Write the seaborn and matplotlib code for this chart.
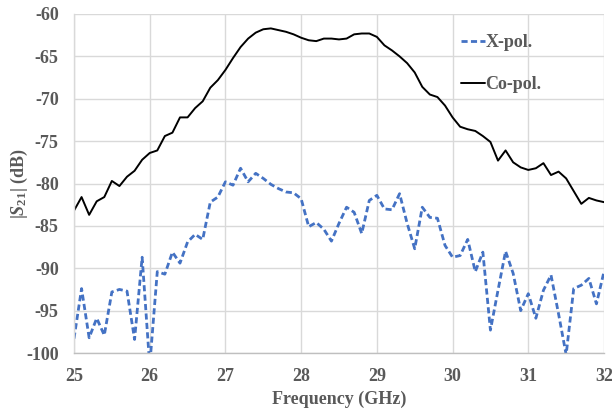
import numpy as np
import pandas as pd
import matplotlib
matplotlib.use("Agg")
import matplotlib.pyplot as plt
import seaborn as sns

# Frequency sweep 25-32 GHz in 0.1 GHz steps
freq = np.round(np.arange(25.0, 32.0001, 0.1), 1)

co_pol = [
    -83.2, -81.6, -83.7, -82.1, -81.6, -79.7, -80.3, -79.2, -78.5, -77.2,
    -76.4, -76.1, -74.4, -74.0, -72.2, -72.2, -71.1, -70.3, -68.7, -67.8,
    -66.6, -65.2, -63.9, -62.9, -62.2, -61.8, -61.7, -61.9, -62.1, -62.4,
    -62.8, -63.1, -63.2, -62.9, -62.9, -63.0, -62.9, -62.4, -62.3, -62.3,
    -62.7, -63.7, -64.3, -65.0, -65.8, -66.9, -68.6, -69.5, -69.8, -70.8,
    -72.2, -73.3, -73.6, -73.8, -74.4, -75.1, -77.3, -76.1, -77.5, -78.1,
    -78.4, -78.2, -77.6, -79.0, -78.6, -79.4, -80.9, -82.4, -81.7, -82.0,
    -82.2,
]

x_pol = [
    -98.3, -92.4, -98.2, -95.9, -97.9, -92.8, -92.5, -92.7, -98.4, -88.7,
    -101.5, -90.4, -90.7, -88.1, -89.4, -86.9, -86.0, -86.6, -82.2, -81.6,
    -79.8, -80.2, -78.2, -79.8, -78.8, -79.4, -80.1, -80.6, -81.0, -81.1,
    -81.8, -85.1, -84.6, -85.4, -86.8, -84.7, -82.8, -83.4, -85.9, -82.0,
    -81.4, -83.0, -83.1, -81.2, -84.7, -87.7, -82.8, -84.0, -84.1, -87.3,
    -88.7, -88.5, -86.6, -90.4, -88.1, -97.3, -92.6, -88.0, -90.6, -95.0,
    -93.0, -95.9, -92.6, -90.8, -95.4, -100.2, -92.4, -92.0, -91.2, -94.2,
    -90.4,
]

x_ticks = [25, 26, 27, 28, 29, 30, 31, 32]
y_ticks = [-100, -95, -90, -85, -80, -75, -70, -65, -60]

df = pd.DataFrame({"freq": freq, "X-pol.": x_pol, "Co-pol.": co_pol})

sns.set_theme(style="whitegrid")
plt.rcParams["font.family"] = ["Liberation Serif", "DejaVu Serif"]
plt.rcParams["mathtext.fontset"] = "custom"
plt.rcParams["mathtext.rm"] = "Liberation Serif:bold"
plt.rcParams["mathtext.it"] = "Liberation Serif:italic:bold"
plt.rcParams["mathtext.bf"] = "Liberation Serif:bold"

text_grey = "#595959"
grid_grey = "#d9d9d9"

fig = plt.figure(figsize=(6.12, 4.08), dpi=100)
ax = fig.add_axes([74 / 612, 1 - 353 / 408, 530 / 612, 339 / 408])

sns.lineplot(data=df, x="freq", y="X-pol.", ax=ax, color="#4472C4",
             linewidth=2.0, label="X-pol.")
ax.lines[-1].set_dashes((2.2, 1.2))
sns.lineplot(data=df, x="freq", y="Co-pol.", ax=ax, color="black",
             linewidth=1.4, label="Co-pol.")

ax.set_xlim(25, 32)
ax.set_ylim(-100, -60)
ax.set_xticks(x_ticks)
ax.set_yticks(y_ticks)
ax.set_xticklabels([str(t) for t in x_ticks])
ax.set_yticklabels([str(t) for t in y_ticks])

ax.grid(True, color=grid_grey, linewidth=1.0)
for side in ["top", "right"]:
    ax.spines[side].set_visible(False)
ax.spines["left"].set_color(grid_grey)
ax.spines["bottom"].set_color("#bfbfbf")
ax.spines["left"].set_linewidth(1.0)
ax.spines["bottom"].set_linewidth(1.0)
ax.tick_params(axis="both", length=0, pad=11, labelsize=13, labelcolor=text_grey)
for lbl in ax.get_xticklabels() + ax.get_yticklabels():
    lbl.set_fontweight("bold")

ax.set_xlabel("Frequency (GHz)", fontsize=13, fontweight="bold",
              color=text_grey, labelpad=4)
ax.set_ylabel(r"$|S_{21}|$ (dB)", fontsize=13, fontweight="bold",
              color=text_grey, labelpad=-3)

leg = ax.legend(loc="upper left", bbox_to_anchor=(0.717, 0.962), frameon=False,
                fontsize=13, handlelength=1.3, handletextpad=0.05,
                labelspacing=1.4, borderaxespad=0)
for t in leg.get_texts():
    t.set_color(text_grey)
    t.set_fontweight("bold")

fig.savefig("out.png", dpi=100)
